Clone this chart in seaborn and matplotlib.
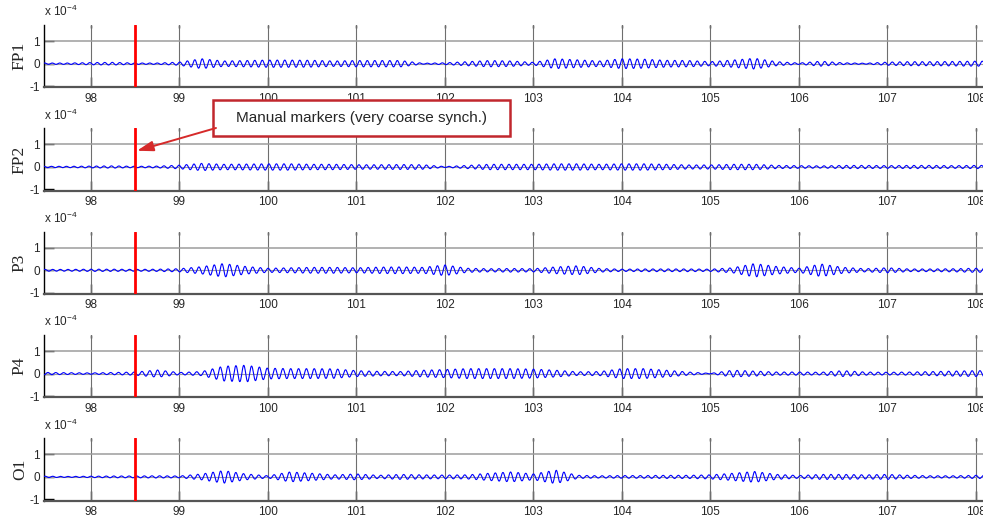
import numpy as np
import pandas as pd
import matplotlib
matplotlib.use("Agg")
import matplotlib.pyplot as plt
from matplotlib.patches import Rectangle, ConnectionPatch
import seaborn as sns

# ---- data -----------------------------------------------------------------
channels = ["FP1", "FP2", "P3", "P4", "O1"]

# envelope knots (s) and alpha-band peak amplitude at each knot (x 1e-4 V)
knot_times = np.arange(97.5, 108.01, 0.25)

env_fp1 = [.03, .03, .05, .06, .03, .03, .07, .22, .12, .14, .16, .16, .15, .12,
           .14, .14, .14, .02, .04, .09, .14, .12, .06, .22, .17, .12, .22, .20,
           .15, .14, .09, .16, .24, .09, .03, .11, .04, .02, .07, .09, .09, .10, .11]
env_fp2 = [.03, .03, .04, .05, .03, .04, .08, .16, .12, .13, .14, .14, .12, .12,
           .10, .10, .11, .10, .02, .07, .12, .12, .12, .14, .14, .12, .14, .14,
           .12, .09, .09, .12, .12, .07, .06, .05, .07, .07, .06, .07, .07, .06, .07]
env_p3 = [.04, .04, .05, .05, .04, .05, .07, .16, .30, .17, .09, .11, .13, .13,
          .11, .14, .15, .13, .24, .09, .07, .08, .07, .15, .20, .08, .05, .06,
          .06, .06, .05, .11, .30, .17, .09, .28, .13, .07, .11, .06, .06, .07, .09]
env_p4 = [.05, .04, .03, .05, .07, .16, .05, .09, .33, .37, .24, .22, .22, .21,
          .13, .10, .09, .15, .18, .22, .22, .22, .20, .15, .08, .09, .22, .22,
          .15, .07, .01, .15, .11, .07, .07, .06, .13, .07, .06, .07, .09, .11, .13]
env_o1 = [.03, .02, .03, .04, .04, .05, .04, .13, .28, .13, .05, .22, .16, .09,
          .13, .07, .11, .09, .08, .09, .16, .22, .13, .30, .07, .05, .06, .06,
          .07, .07, .09, .16, .24, .11, .06, .11, .11, .09, .11, .07, .05, .05, .07]
envelopes = [env_fp1, env_fp2, env_p3, env_p4, env_o1]

# dominant alpha frequency of each channel (Hz)
alpha_freq = [11.8, 11.8, 11.5, 11.3, 11.6]

marker_time = 98.5
x_ticks = [98, 99, 100, 101, 102, 103, 104, 105, 106, 107, 108]
y_ticks = [-1, 0, 1]
note_text = "Manual markers (very coarse synch.)"

# ---- figure ---------------------------------------------------------------
sns.set_style("white")
plt.rcParams["font.family"] = ["Liberation Sans", "DejaVu Sans"]
plt.rcParams["mathtext.fontset"] = "custom"
plt.rcParams["mathtext.rm"] = "Liberation Sans"
plt.rcParams["mathtext.it"] = "Liberation Sans:italic"

W, H = 983, 520
fig = plt.figure(figsize=(W / 100, H / 100), dpi=100)

fs = 256.0
t = np.arange(97.45, 108.1, 1.0 / fs)

left = 44 / W
width = 1.0 - left
ax_h = 62.3 / H
axes = []
for i, (name, env, f) in enumerate(zip(channels, envelopes, alpha_freq)):
    bottom_px = 87.3 + 103.3 * i
    ax = fig.add_axes([left, 1 - bottom_px / H, width, ax_h])
    axes.append(ax)

    amp = np.interp(t, knot_times, env)
    sig = amp * np.sin(2 * np.pi * f * t + 0.7 * i)
    df = pd.DataFrame({"time": t, "value": sig})
    sns.lineplot(data=df, x="time", y="value", ax=ax, color="#0000ff",
                 linewidth=0.8, estimator=None, sort=False, zorder=3)

    ax.set_xlim(97.47, 108.08)
    ax.set_ylim(-1.05, 1.72)
    ax.set_xticks(x_ticks)
    ax.set_xticklabels([str(v) for v in x_ticks])
    ax.set_yticks(y_ticks)
    ax.set_yticklabels([str(v) for v in y_ticks])
    ax.set_xlabel("")
    ax.set_ylabel(name, family=["Liberation Serif", "DejaVu Serif"],
                  fontsize=12.5, labelpad=1)

    # grid
    for xv in x_ticks:
        ax.axvline(xv, color="#6e6e6e", lw=0.8, zorder=1)
    ax.axhline(1, color="#9c9c9c", lw=1.1, zorder=1)
    ax.axhline(0, color="#9c9c9c", lw=0.8, zorder=1)

    ax.axvline(marker_time, color="#ff0000", lw=2.0, zorder=4)

    for s in ("top", "right"):
        ax.spines[s].set_visible(False)
    ax.spines["left"].set_color("#000000")
    ax.spines["left"].set_linewidth(1.0)
    ax.spines["bottom"].set_color("#555555")
    ax.spines["bottom"].set_linewidth(1.6)

    ax.tick_params(axis="x", direction="in", length=7, width=1.0, color="#000000",
                   labelsize=8.5, pad=4, bottom=True, top=False)
    ax.tick_params(axis="y", direction="in", length=7, width=1.0, color="#000000",
                   labelsize=8.5, pad=3, left=True, right=False)

    top = ax.secondary_xaxis("top")
    top.set_xticks(x_ticks)
    top.tick_params(direction="in", length=2.5, width=1.0, color="#000000",
                    labeltop=False)
    top.spines["top"].set_visible(False)

    ax.text(0.0, 1.09, r"x 10$^{-4}$", transform=ax.transAxes, fontsize=8.5,
            ha="left", va="bottom")

# callout box, text and arrow pointing at the marker on FP2
box_l, box_r, box_t, box_b = 213, 510, 100, 136
fig.add_artist(Rectangle((box_l / W, 1 - box_b / H), (box_r - box_l) / W,
                         (box_b - box_t) / H, transform=fig.transFigure,
                         facecolor="white", edgecolor="#c1272d", linewidth=1.8,
                         zorder=5))
fig.text((box_l + box_r) / 2 / W, 1 - (box_t + box_b) / 2 / H, note_text,
         ha="center", va="center", fontsize=11, zorder=6)
arrow = ConnectionPatch(xyA=(216 / W, 1 - 128 / H), coordsA=fig.transFigure,
                        xyB=(98.52, 0.72), coordsB=axes[1].transData,
                        arrowstyle="-|>,head_length=0.7,head_width=0.22",
                        mutation_scale=14, color="#d62a2a", linewidth=1.4,
                        shrinkA=0, shrinkB=0, zorder=6)
fig.add_artist(arrow)

fig.savefig("out.png", dpi=100)
